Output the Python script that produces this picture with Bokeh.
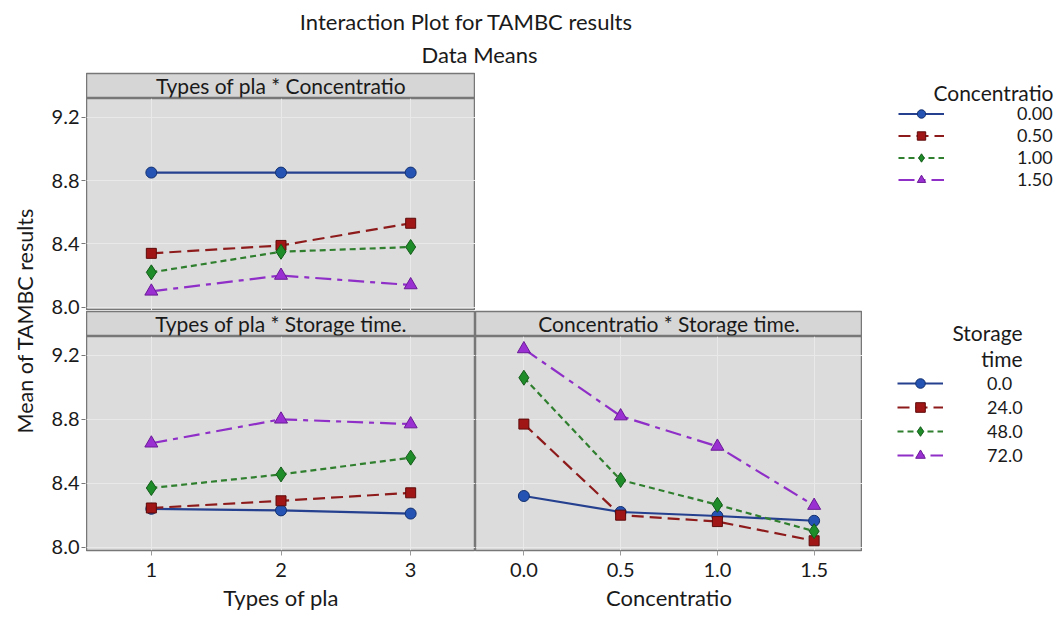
import math
from bokeh.plotting import figure
from bokeh.models import Range1d, FixedTicker, Label, Legend, LegendItem, ColumnDataSource
from bokeh.layouts import column, row
from bokeh.embed import file_html
from bokeh.resources import INLINE

# ---------------- data ----------------
types_of_pla = [1, 2, 3]
concentratio = [0.0, 0.5, 1.0, 1.5]
conc_labels = ["0.00", "0.50", "1.00", "1.50"]
storage_labels = ["0.0", "24.0", "48.0", "72.0"]

# Types of pla * Concentratio (one list per concentration level)
tl_conc_000 = [8.85, 8.85, 8.85]
tl_conc_050 = [8.34, 8.39, 8.53]
tl_conc_100 = [8.22, 8.35, 8.38]
tl_conc_150 = [8.10, 8.20, 8.14]

# Types of pla * Storage time (one list per storage time)
bl_store_00 = [8.24, 8.23, 8.21]
bl_store_24 = [8.245, 8.29, 8.34]
bl_store_48 = [8.37, 8.455, 8.56]
bl_store_72 = [8.65, 8.80, 8.77]

# Concentratio * Storage time (one list per storage time)
br_store_00 = [8.32, 8.22, 8.195, 8.165]
br_store_24 = [8.77, 8.20, 8.16, 8.04]
br_store_48 = [9.06, 8.42, 8.265, 8.10]
br_store_72 = [9.24, 8.82, 8.63, 8.26]

y_ticks = [8.0, 8.4, 8.8, 9.2]
y_tick_labels = ["8.0", "8.4", "8.8", "9.2"]
pla_tick_labels = ["1", "2", "3"]
conc_tick_labels = ["0.0", "0.5", "1.0", "1.5"]

title_text = "Interaction Plot for TAMBC results"
subtitle_text = "Data Means"
y_axis_title = "Mean of TAMBC results"
strip_tl = "Types of pla * Concentratio"
strip_bl = "Types of pla * Storage time."
strip_br = "Concentratio * Storage time."
x_title_left = "Types of pla"
x_title_right = "Concentratio"
legend_title_conc = "Concentratio"
legend_title_store = ["Storage", "time"]

# ---------------- styling ----------------
FONT = "Lato"
TXT = "#1a1a1a"
PANEL_BG = "#dcdcdc"
STRIP_BG = "#d6d6d6"
BORDER = "#777777"

STYLES = [
    dict(line="#24408f", fill="#2453b3", edge="#13306e", marker="circle", dash="solid", size=11),
    dict(line="#8e1b1b", fill="#a01616", edge="#5e0b0b", marker="square", dash="12 6", size=10),
    dict(line="#2f7f2f", fill="#1f8c2a", edge="#135a18", marker="diamond", dash="6 4", size=15),
    dict(line="#8f2fc8", fill="#9b30d2", edge="#6a1a96", marker="triangle", dash="16 6 5 6", size=13),
]

Y_RANGE = Range1d(7.979, 9.318)
PLA_RANGE = (0.5, 3.5)
CONC_RANGE = (-0.25, 1.75)


def blank(width, height):
    f = figure(width=width, height=height, x_range=Range1d(0, width), y_range=Range1d(0, height),
               output_backend="svg", toolbar_location=None,
               x_axis_location=None, y_axis_location=None,
               min_border_left=0, min_border_right=0, min_border_top=0, min_border_bottom=0)
    f.grid.visible = False
    f.outline_line_color = None
    f.background_fill_color = "white"
    f.border_fill_color = "white"
    return f


def strip(width, text):
    # 26 px high: a 24 px strip with 1 px of white above and below
    s = figure(width=width, height=26, x_range=Range1d(0, 1), y_range=Range1d(0, 1),
               output_backend="svg", toolbar_location=None,
               x_axis_location=None, y_axis_location=None,
               min_border_left=0, min_border_right=0, min_border_top=1, min_border_bottom=1)
    s.grid.visible = False
    s.background_fill_color = STRIP_BG
    s.border_fill_color = "white"
    s.outline_line_color = BORDER
    s.outline_line_width = 1.5
    s.add_layout(Label(x=0.5, y=0.5, text=text, text_align="center", text_baseline="middle",
                       text_font=FONT, text_font_size="21px", text_color=TXT))
    return s


def yaxis_fig(height, mbt, mbb):
    # a narrow figure that only carries the y axis of the panel to its right
    f = figure(width=38, height=height, x_range=Range1d(0, 1), y_range=Y_RANGE,
               output_backend="svg", toolbar_location=None,
               x_axis_location=None, y_axis_location="left",
               min_border_left=37, min_border_right=0, min_border_top=mbt, min_border_bottom=mbb)
    f.grid.visible = False
    f.outline_line_color = None
    f.background_fill_color = "white"
    f.border_fill_color = "white"
    ax = f.yaxis[0]
    ax.ticker = FixedTicker(ticks=y_ticks)
    ax.major_label_overrides = dict(zip(y_ticks, y_tick_labels))
    ax.axis_line_color = None
    ax.major_tick_line_color = BORDER
    ax.major_tick_line_width = 1.2
    ax.major_tick_out = 4
    ax.major_tick_in = 0
    ax.minor_tick_line_color = None
    ax.major_label_text_font = FONT
    ax.major_label_text_font_size = "20px"
    ax.major_label_text_color = TXT
    ax.major_label_standoff = 2
    return f


def panel(width, height, xr, xticks, xlabels, show_x, xtitle, mbb):
    p = figure(width=width, height=height, x_range=Range1d(*xr), y_range=Y_RANGE,
               output_backend="svg", toolbar_location=None,
               x_axis_location="below" if show_x else None, y_axis_location=None,
               min_border_left=0, min_border_right=0, min_border_top=0, min_border_bottom=mbb)
    p.background_fill_color = PANEL_BG
    p.border_fill_color = "white"
    p.outline_line_color = BORDER
    p.outline_line_width = 1.5
    p.xgrid.ticker = FixedTicker(ticks=xticks)
    p.ygrid.ticker = FixedTicker(ticks=y_ticks)
    p.grid.grid_line_color = "#e9e9e9"
    p.grid.grid_line_width = 1
    if show_x:
        ax = p.xaxis[0]
        ax.ticker = FixedTicker(ticks=xticks)
        ax.major_label_overrides = dict(zip(xticks, xlabels))
        ax.axis_line_color = BORDER
        ax.major_tick_line_color = "#9a9a9a"
        ax.major_tick_out = 5
        ax.major_tick_in = 0
        ax.minor_tick_line_color = None
        ax.major_label_text_font = FONT
        ax.major_label_text_font_size = "20px"
        ax.major_label_text_color = TXT
        ax.major_label_standoff = 7
        ax.axis_label = xtitle
        ax.axis_label_text_font = FONT
        ax.axis_label_text_font_size = "22px"
        ax.axis_label_text_font_style = "normal"
        ax.axis_label_text_color = TXT
        ax.axis_label_standoff = 4
    return p


def draw_series(p, xs, series):
    for ys, st in zip(series, STYLES):
        src = ColumnDataSource(data=dict(x=xs, y=ys))
        p.line("x", "y", source=src, line_color=st["line"], line_width=2.2, line_dash=st["dash"])
        p.scatter("x", "y", source=src, marker=st["marker"], size=st["size"],
                  fill_color=st["fill"], line_color=st["edge"], line_width=1)


def legend_fig(width, height, labels, xs, series, loc, standoff, glyph_h):
    f = blank(width, height)
    items = []
    for lab, ys, st in zip(labels, series, STYLES):
        # hidden proxy renderers: only their styles are drawn in the legend
        src = ColumnDataSource(data=dict(x=xs, y=ys))
        lr = f.line("x", "y", source=src, line_color=st["line"], line_width=2, line_dash=st["dash"],
                    visible=False)
        sr = f.scatter("x", "y", source=src, marker=st["marker"], fill_color=st["fill"],
                       line_color=st["edge"], line_width=1, visible=False)
        items.append(LegendItem(label=lab, renderers=[lr, sr]))
    leg = Legend(items=items, location=loc, padding=0, margin=0, spacing=0,
                 glyph_width=46, glyph_height=glyph_h, label_height=glyph_h,
                 label_standoff=standoff, label_text_font=FONT, label_text_font_size="18px",
                 label_text_color=TXT, border_line_color=None, background_fill_alpha=0,
                 inactive_fill_alpha=0)
    f.add_layout(leg)
    return f


# ---------------- header ----------------
header = blank(1063, 72)
header.add_layout(Label(x=466, y=51, text=title_text, text_align="center", text_baseline="middle",
                        text_font=FONT, text_font_size="22px", text_color=TXT))
header.add_layout(Label(x=479, y=18, text=subtitle_text, text_align="center", text_baseline="middle",
                        text_font=FONT, text_font_size="22px", text_color=TXT))

# ---------------- y axis title ----------------
ylab = blank(48, 547)
ylab.add_layout(Label(x=24, y=299, text=y_axis_title, angle=math.pi / 2, text_align="center",
                      text_baseline="middle", text_font=FONT, text_font_size="21.5px", text_color=TXT))

# ---------------- y axes ----------------
ax_tl = yaxis_fig(247, 26, 9)
ax_bl = yaxis_fig(300, 17, 69)

# ---------------- panels ----------------
s_tl = strip(389, strip_tl)
p_tl = panel(389, 212, PLA_RANGE, types_of_pla, pla_tick_labels, False, None, 0)
draw_series(p_tl, types_of_pla, [tl_conc_000, tl_conc_050, tl_conc_100, tl_conc_150])

s_bl = strip(389, strip_bl)
p_bl = panel(389, 283, PLA_RANGE, types_of_pla, pla_tick_labels, True, x_title_left, 69)
draw_series(p_bl, types_of_pla, [bl_store_00, bl_store_24, bl_store_48, bl_store_72])

s_br = strip(387, strip_br)
p_br = panel(387, 283, CONC_RANGE, concentratio, conc_tick_labels, True, x_title_right, 69)
draw_series(p_br, concentratio, [br_store_00, br_store_24, br_store_48, br_store_72])

# ---------------- legends ----------------
leg_a = legend_fig(588, 238, conc_labels, types_of_pla,
                   [tl_conc_000, tl_conc_050, tl_conc_100, tl_conc_150], (423, 120), 73, 21)
leg_a.add_layout(Label(x=578, y=218, text=legend_title_conc, text_align="right", text_baseline="middle",
                       text_font=FONT, text_font_size="21px", text_color=TXT))

leg_b = legend_fig(201, 309, storage_labels, concentratio,
                   [br_store_00, br_store_24, br_store_48, br_store_72], (35, 152), 44, 24)
leg_b.add_layout(Label(x=160, y=287, text=legend_title_store[0], text_align="right", text_baseline="middle",
                       text_font=FONT, text_font_size="21px", text_color=TXT))
leg_b.add_layout(Label(x=160, y=261, text=legend_title_store[1], text_align="right", text_baseline="middle",
                       text_font=FONT, text_font_size="21px", text_color=TXT))

row_a = row(column(s_tl, p_tl), leg_a)
row_b = row(column(s_bl, p_bl), column(s_br, p_br), leg_b)
layout = column(header, row(ylab, column(ax_tl, ax_bl), column(row_a, row_b)))

open("out.html", "w").write(file_html(layout, INLINE))
